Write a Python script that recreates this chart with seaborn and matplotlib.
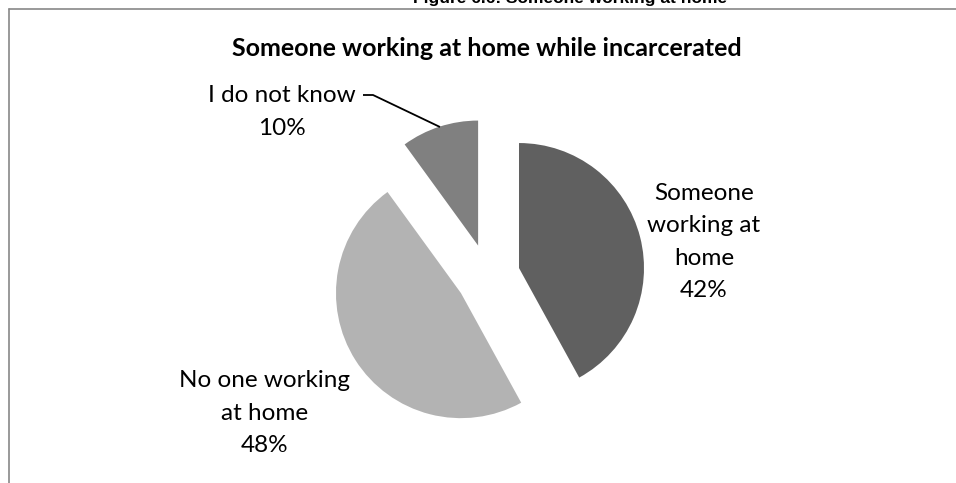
import matplotlib
matplotlib.use("Agg")
import matplotlib.pyplot as plt
from matplotlib.lines import Line2D
import seaborn as sns

# Survey answers and their shares (%)
categories = ["Someone working at home", "No one working at home", "I do not know"]
label_text = ["Someone\nworking at\nhome", "No one working\nat home", "I do not know"]
shares = [42, 48, 10]
slice_colors = ["#606060", "#b3b3b3", "#808080"]

figure_title = "Figure 6.6: Someone working at home"
chart_title = "Someone working at home while incarcerated"

sns.set_theme(style="white")
plt.rcParams["font.family"] = ["Lato", "DejaVu Sans"]

W, H = 956, 483
fig = plt.figure(figsize=(W / 100, H / 100), dpi=100)
ax = fig.add_axes([0, 0, 1, 1])

# Pie: starts at 12 o'clock, clockwise, every slice pulled out
cx, cy, r = 488, H - 276, 125
ax.pie(shares, colors=slice_colors, startangle=90, counterclock=False,
       center=(cx, cy), radius=r, explode=[0.256 * r] * len(shares),
       wedgeprops=dict(linewidth=0), frame=True)
ax.set_xlim(0, W)
ax.set_ylim(0, H)
ax.set_aspect("equal")
ax.axis("off")

lab_size = 17.5
lab_ls = 1.65
ax.text(704, H - 242, f"{label_text[0]}\n{shares[0]}%", ha="center", va="center",
        fontsize=lab_size, color="black", linespacing=lab_ls)
ax.text(265, H - 413, f"{label_text[1]}\n{shares[1]}%", ha="center", va="center",
        fontsize=lab_size, color="black", linespacing=lab_ls)
ax.text(282, H - 112, f"{label_text[2]}\n{shares[2]}%", ha="center", va="center",
        fontsize=lab_size, color="black", linespacing=lab_ls)
# leader line for the small slice
ax.plot([363, 373, 440], [H - 95, H - 95, H - 127], color="black", lw=1.3,
        solid_capstyle="butt")

ax.text(487, H - 48, chart_title, ha="center", va="center", fontsize=18,
        fontweight="bold", color="black")

# figure caption running off the top edge
fig.text(570 / W, 1 - 3 / H, figure_title, ha="center", va="baseline",
         fontsize=12.5, fontweight="bold", family=["Liberation Sans", "DejaVu Sans"],
         color="black")

# chart frame (top and left edges)
frame_col = "#888888"
fig.add_artist(Line2D([8.5 / W, 1], [1 - 8.5 / H, 1 - 8.5 / H], color=frame_col, lw=1.2,
                      transform=fig.transFigure))
fig.add_artist(Line2D([8.5 / W, 8.5 / W], [0, 1 - 8.5 / H], color=frame_col, lw=1.2,
                      transform=fig.transFigure))

fig.savefig("out.png", dpi=100, facecolor="white")
